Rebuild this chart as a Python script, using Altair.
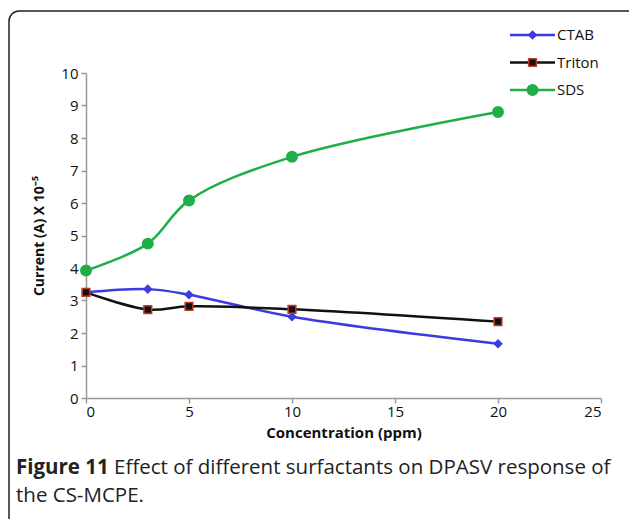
import altair as alt
import pandas as pd

conc = [0, 3, 5, 10, 20]
ctab = [3.25, 3.35, 3.18, 2.50, 1.67]
triton = [3.25, 2.72, 2.82, 2.73, 2.35]
sds = [3.92, 4.75, 6.08, 7.42, 8.80]

series_names = ["CTAB", "Triton", "SDS"]
series_values = [ctab, triton, sds]
line_colors = ["#3b3be0", "#111111", "#1fae48"]
marker_shapes = ["diamond", "square", "circle"]
marker_fills = ["#3b3be0", "#111111", "#1fae48"]
marker_strokes = ["#3b3be0", "#c0392b", "#1fae48"]
marker_sizes = [55, 60, 110]

x_ticks = [0, 5, 10, 15, 20, 25]
y_ticks = list(range(0, 11))

W, H = 515, 325
FONT = "Open Sans"
CAP = 20.5

layers = []
for name, vals, lc, shp, mf, ms, sz in zip(series_names, series_values, line_colors,
                                           marker_shapes, marker_fills, marker_strokes, marker_sizes):
    df = pd.DataFrame({"conc": conc, "current": vals, "series": name})
    x = alt.X("conc:Q", scale=alt.Scale(domain=[0, 25], nice=False),
              axis=alt.Axis(values=x_ticks, title="Concentration (ppm)"))
    y = alt.Y("current:Q", scale=alt.Scale(domain=[0, 10], nice=False),
              axis=alt.Axis(values=y_ticks, title="Current (A) X 10⁻⁵"))
    line = alt.Chart(df).mark_line(interpolate="catmull-rom", color=lc, strokeWidth=2.5).encode(x=x, y=y)
    pts = alt.Chart(df).mark_point(shape=shp, filled=True, fill=mf, stroke=ms, strokeWidth=1.5,
                                   size=sz, opacity=1).encode(x=x, y=y)
    layers += [line, pts]

# legend (manual, mimicking the original)
leg_x0, leg_x1 = 510 - 86, 555 - 86
leg_y0 = 35 - 73
for i, (name, lc, shp, mf, ms, sz) in enumerate(zip(series_names, line_colors, marker_shapes,
                                                   marker_fills, marker_strokes, marker_sizes)):
    yy = leg_y0 + i * 27.5
    d = pd.DataFrame({"series": [name]})
    layers.append(alt.Chart(d).mark_rule(color=lc, strokeWidth=2.5).encode(
        x=alt.value(leg_x0), x2=alt.value(leg_x1), y=alt.value(yy)))
    layers.append(alt.Chart(d).mark_point(shape=shp, filled=True, fill=mf, stroke=ms, strokeWidth=1.5,
                                          size=sz, opacity=1).encode(
        x=alt.value((leg_x0 + leg_x1) / 2), y=alt.value(yy)))
    layers.append(alt.Chart(d).mark_text(align="left", baseline="middle", font=FONT, fontSize=15,
                                         color="#111111").encode(
        x=alt.value(leg_x1 + 2), y=alt.value(yy), text="series:N"))

# caption
cap = pd.DataFrame({"a": ["Figure 11"], "b": ["Effect of different surfactants on DPASV response of"],
                    "c": ["the CS-MCPE."]})
cap_y1 = 468 - 73
cap_y2 = 496 - 73
cap_x = 16 - 86
layers.append(alt.Chart(cap).mark_text(align="left", baseline="middle", font=FONT, fontSize=CAP,
                                       fontWeight="bold", color="#222222").encode(
    x=alt.value(cap_x), y=alt.value(cap_y1), text="a:N"))
layers.append(alt.Chart(cap).mark_text(align="left", baseline="middle", font=FONT, fontSize=CAP,
                                       color="#222222").encode(
    x=alt.value(cap_x + 98), y=alt.value(cap_y1), text="b:N"))
layers.append(alt.Chart(cap).mark_text(align="left", baseline="middle", font=FONT, fontSize=CAP,
                                       color="#222222").encode(
    x=alt.value(cap_x), y=alt.value(cap_y2), text="c:N"))

# border
layers.append(alt.Chart(cap).mark_rect(fill=None, stroke="#222222", strokeWidth=1.5, cornerRadius=10,
                                       clip=False).encode(
    x=alt.value(9 - 86), x2=alt.value(640 - 86), y=alt.value(11 - 73), y2=alt.value(530 - 73)))

chart = alt.layer(*layers).properties(
    width=W, height=H,
    autosize=alt.AutoSizeParams(type="none"),
    padding={"left": 86, "top": 73, "right": 28, "bottom": 121},
    background="white",
).configure_view(stroke=None).configure_axis(
    domainColor="#999999", tickColor="#999999", tickSize=5, domainWidth=1.5, tickWidth=1.5,
    grid=False, labelFont=FONT, labelFontSize=15, labelColor="#111111",
    titleFont=FONT, titleFontWeight="bold", titleColor="#111111",
).configure_axisX(labelPadding=1, titlePadding=6, titleFontSize=15).configure_axisY(
    labelPadding=3, titlePadding=14, titleFontSize=14)

chart.save("out.html", embed_options={"renderer": "svg", "actions": False})
